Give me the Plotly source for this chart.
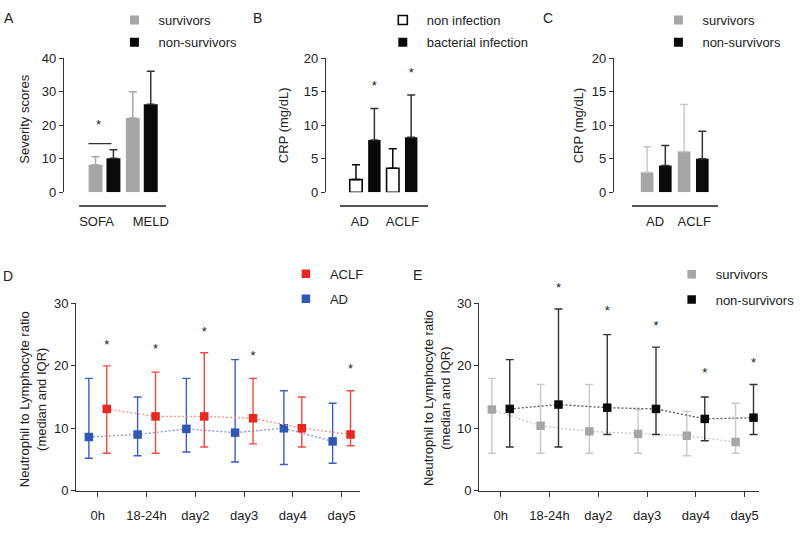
import plotly.graph_objects as go

W, H = 800, 533
def fx(p):
    return p / W
def fy(p):
    return 1 - p / H

FONT = "Liberation Sans, Arial, sans-serif"
TXT = "#222222"
AX = "#333333"

GRAY = "#a6a6a6"
GRAY_ERR_LIGHT = "#c8c8c8"
BLACK = "#0a0a0a"
BLACK_ERR = "#333333"
RED = "#e8271f"
RED_ERR = "#ee4a3e"
BLUE = "#3057b2"
BLUE_ERR = "#3a5fbe"

# ---------------- Panel A ----------------
a_categories = ["SOFA", "MELD"]
a_surv = [8.2, 22.2]
a_surv_upper = [10.6, 30.0]
a_nonsurv = [10.2, 26.3]
a_nonsurv_upper = [12.7, 36.1]
a_sig_star = 20.0
a_sig_line = 14.5

# ---------------- Panel B ----------------
b_categories = ["AD", "ACLF"]
b_noninf = [1.9, 3.6]
b_noninf_upper = [4.1, 6.5]
b_bact = [7.8, 8.2]
b_bact_upper = [12.5, 14.5]
b_stars = [15.8, 17.7]

# ---------------- Panel C ----------------
c_categories = ["AD", "ACLF"]
c_surv = [3.0, 6.1]
c_surv_upper = [6.8, 13.1]
c_nonsurv = [4.0, 5.0]
c_nonsurv_upper = [7.0, 9.1]

# ---------------- Panel D ----------------
timepoints = ["0h", "18-24h", "day2", "day3", "day4", "day5"]
d_ad_med = [8.6, 9.0, 9.9, 9.3, 10.0, 7.9]
d_ad_q1 = [5.2, 5.6, 6.2, 4.6, 4.2, 4.4]
d_ad_q3 = [18.0, 15.0, 18.0, 21.0, 16.0, 14.0]
d_aclf_med = [13.1, 11.9, 11.9, 11.6, 10.0, 9.0]
d_aclf_q1 = [6.0, 6.0, 7.0, 7.5, 7.0, 7.2]
d_aclf_q3 = [20.0, 19.0, 22.1, 18.0, 15.0, 16.0]
d_stars = [23.2, 22.5, 25.3, 21.4, None, 19.4]

# ---------------- Panel E ----------------
e_surv_med = [13.0, 10.4, 9.5, 9.1, 8.8, 7.8]
e_surv_q1 = [6.0, 6.0, 6.0, 6.0, 5.6, 6.0]
e_surv_q3 = [18.0, 17.0, 17.0, 13.0, 12.7, 14.0]
e_non_med = [13.1, 13.8, 13.3, 13.1, 11.5, 11.7]
e_non_q1 = [7.0, 7.0, 9.0, 9.0, 8.0, 9.0]
e_non_q3 = [21.0, 29.1, 25.0, 23.0, 15.0, 17.0]
e_stars = [None, 32.4, 28.6, 26.3, 18.7, 20.4]

fig = go.Figure()
legend_layouts = {}
_leg_count = [0]

def new_legend(sx, sy):
    """one legend box per entry, symbol centred near pixel (sx, sy)"""
    _leg_count[0] += 1
    k = _leg_count[0]
    name = "legend" if k == 1 else f"legend{k}"
    legend_layouts[name] = dict(
        x=fx(sx - 24), y=fy(sy - 17), xanchor="left", yanchor="top",
        bgcolor="rgba(0,0,0,0)", borderwidth=0, itemwidth=38,
        font=dict(size=13, color=TXT, family=FONT))
    return name

# ---------- bar panel helper ----------
def bar_panel(n, cats, s1, s1_up, s2, s2_up, name1, name2, style1, style2,
              center0, unit, x0px, x1px, yax_px, ytop_px, ybot_px, ymax, dtick,
              label_px, bar_w, bar_gap, leg_px):
    xa = "x" if n == 1 else f"x{n}"
    ya = "y" if n == 1 else f"y{n}"
    idx = list(range(len(cats)))
    w = bar_w / unit
    off1 = -(bar_gap / 2 + bar_w) / unit
    off2 = (bar_gap / 2) / unit
    for vals, ups, off, st in [(s1, s1_up, off1, style1), (s2, s2_up, off2, style2)]:
        fig.add_trace(go.Bar(
            x=idx, y=vals, width=w, offset=off, xaxis=xa, yaxis=ya,
            marker=dict(color=st["fill"], line=dict(color=st["line"], width=st["lw"])),
            error_y=dict(type="data", symmetric=False,
                         array=[u - v for u, v in zip(ups, vals)],
                         arrayminus=[0] * len(vals),
                         color=st["err"], thickness=1.5, width=4),
            showlegend=False, hoverinfo="skip"))
    # legend entries
    for (nm, st), (sx, sy) in zip([(name1, style1), (name2, style2)], leg_px):
        fig.add_trace(go.Scatter(
            x=[None], y=[None], mode="markers", name=nm, xaxis=xa, yaxis=ya,
            marker=dict(symbol="square", size=9, color=st["fill"],
                        line=dict(color=st["line"], width=st["lw"])),
            legend=new_legend(sx, sy)))
    ticks_x = [(p - center0) / unit for p in label_px]
    axkey = "xaxis" if n == 1 else f"xaxis{n}"
    aykey = "yaxis" if n == 1 else f"yaxis{n}"
    fig.layout[axkey] = dict(
        domain=[fx(x0px), fx(x1px)], anchor="free", position=fy(205),
        range=[(x0px - center0) / unit, (x1px - center0) / unit],
        showline=True, linecolor="#555555", linewidth=1.5, ticks="",
        tickvals=ticks_x, ticktext=cats, showgrid=False, zeroline=False,
        tickfont=dict(size=13, color=TXT, family=FONT), ticklabelstandoff=3,
        fixedrange=True)
    fig.layout[aykey] = dict(
        domain=[fy(ybot_px), fy(ytop_px)], anchor="free", position=fx(yax_px),
        range=[0, ymax], dtick=dtick, showline=True, linecolor=AX, linewidth=1.3,
        ticks="outside", ticklen=4, tickcolor=AX, tickwidth=1.3,
        showgrid=False, zeroline=False,
        tickfont=dict(size=13, color=TXT, family=FONT), fixedrange=True)

solid_gray = dict(fill=GRAY, line=GRAY, lw=0, err=GRAY)
solid_black = dict(fill=BLACK, line=BLACK, lw=0, err=BLACK_ERR)
open_white = dict(fill="white", line=BLACK, lw=1.6, err=BLACK)
c_gray = dict(fill=GRAY, line=GRAY, lw=0, err=GRAY_ERR_LIGHT)

bar_panel(1, a_categories, a_surv, a_surv_upper, a_nonsurv, a_nonsurv_upper,
          "survivors", "non-survivors", solid_gray, solid_black,
          105, 37.5, 79, 167, 63.3, 52.7, 190.7, 40, 10, [97, 151.5], 14, 4,
          [(135, 15), (135, 38)])
bar_panel(2, b_categories, b_noninf, b_noninf_upper, b_bact, b_bact_upper,
          "non infection", "bacterial infection", open_white, solid_black,
          367, 37, 341.7, 430, 326.7, 52.7, 190.7, 20, 5, [361.7, 404.5], 12.5, 6,
          [(404.7, 15), (404.7, 38)])
bar_panel(3, c_categories, c_surv, c_surv_upper, c_nonsurv, c_nonsurv_upper,
          "survivors", "non-survivors", c_gray, solid_black,
          659.5, 37.2, 635, 721.7, 616, 52.7, 190.7, 20, 5, [658.3, 697.7], 12.7, 5.6,
          [(681.7, 15), (681.7, 38)])

# significance in A
fig.add_trace(go.Scatter(x=[(99 - 105) / 37.5], y=[a_sig_star], mode="text", text=["*"],
                         textfont=dict(size=13, color=TXT, family=FONT), xaxis="x", yaxis="y",
                         showlegend=False, cliponaxis=False, hoverinfo="skip"))
fig.add_shape(type="line", xref="x", yref="y", x0=(89 - 105) / 37.5, x1=(112 - 105) / 37.5,
              y0=a_sig_line, y1=a_sig_line, line=dict(color=AX, width=1.3))
# stars in B over bacterial bars
fig.add_trace(go.Scatter(x=[i + (3 + 6.25) / 37 for i in range(2)], y=b_stars, mode="text",
                         text=["*"] * 2, textfont=dict(size=13, color=TXT, family=FONT),
                         xaxis="x2", yaxis="y2", showlegend=False, cliponaxis=False,
                         hoverinfo="skip"))

# ---------- line panels ----------
Y_TOP, Y_BOT = 305, 497.7
STAR_TOP = 240  # extended (invisible) axis for significance stars

def line_panel(n, star_n, s1_med, s1_q1, s1_q3, s2_med, s2_q1, s2_q3, stars, name1, name2,
               col1, err1, dot1, col2, err2, dot2, tick0px, unit, yaxpx, x1px, leg_px):
    xa, ya = f"x{n}", f"y{n}"
    idx = list(range(len(timepoints)))
    off = 9 / unit
    entries = [(s1_med, s1_q1, s1_q3, -1, col1, err1, dot1, name1),
               (s2_med, s2_q1, s2_q3, 1, col2, err2, dot2, name2)]
    for (med, q1, q3, sgn, col, ecol, dcol, nm), (sx, sy) in zip(entries, leg_px):
        xs = [i + sgn * off for i in idx]
        fig.add_trace(go.Scatter(x=xs, y=med, mode="lines", xaxis=xa, yaxis=ya,
                                 line=dict(color=dcol, width=1.3, dash="2px,2px"),
                                 showlegend=False, hoverinfo="skip"))
        fig.add_trace(go.Scatter(
            x=xs, y=med, mode="markers", name=nm, xaxis=xa, yaxis=ya,
            marker=dict(symbol="square", size=8.5, color=col),
            error_y=dict(type="data", symmetric=False,
                         array=[b - m for b, m in zip(q3, med)],
                         arrayminus=[m - a for a, m in zip(q1, med)],
                         color=ecol, thickness=1.4, width=4),
            legend=new_legend(sx, sy), cliponaxis=False))
    fig.add_trace(go.Scatter(x=[i + off for i in idx], y=stars, mode="text", text=["*"] * len(idx),
                             textfont=dict(size=13, color=TXT, family=FONT),
                             xaxis=xa, yaxis=f"y{star_n}", showlegend=False, cliponaxis=False,
                             hoverinfo="skip"))
    fig.layout[f"xaxis{n}"] = dict(
        domain=[fx(yaxpx), fx(x1px)], anchor=ya,
        range=[(yaxpx - tick0px) / unit, (x1px - tick0px) / unit],
        tickvals=idx, ticktext=timepoints, ticks="outside", ticklen=5, tickwidth=1.3,
        tickcolor=AX, showline=True, linecolor=AX, linewidth=1.3, showgrid=False,
        zeroline=False, tickfont=dict(size=13, color=TXT, family=FONT),
        ticklabelstandoff=8, fixedrange=True)
    fig.layout[f"yaxis{n}"] = dict(
        domain=[fy(Y_BOT), fy(Y_TOP)], anchor=xa, range=[0, 30], dtick=10,
        showline=True, linecolor=AX, linewidth=1.3, ticks="outside", ticklen=4,
        tickwidth=1.3, tickcolor=AX, showgrid=False, zeroline=False,
        tickfont=dict(size=13, color=TXT, family=FONT), fixedrange=True)
    fig.layout[f"yaxis{star_n}"] = dict(
        domain=[fy(Y_BOT), fy(STAR_TOP)], anchor=xa,
        range=[0, 30 * (Y_BOT - STAR_TOP) / (Y_BOT - Y_TOP)], visible=False, fixedrange=True)

line_panel(4, 6, d_ad_med, d_ad_q1, d_ad_q3, d_aclf_med, d_aclf_q1, d_aclf_q3, d_stars,
           "AD", "ACLF", BLUE, BLUE_ERR, "#7d95d6", RED, RED_ERR, "#f39480",
           98.3, 49, 76.7, 361.7, [(307.3, 301.7), (307.3, 276)])
line_panel(5, 7, e_surv_med, e_surv_q1, e_surv_q3, e_non_med, e_non_q1, e_non_q3, e_stars,
           "survivors", "non-survivors", GRAY, GRAY_ERR_LIGHT, "#c8c8c8", BLACK, BLACK_ERR, "#555555",
           503.3, 49, 481.7, 763.3, [(695, 276.7), (695, 302.7)])

fig.update_layout(**legend_layouts)

# ---------- text annotations ----------
ann = []
for letter, x, y in [("A", 9, 11.5), ("B", 259, 11.5), ("C", 551, 11.5), ("D", 8, 276.5), ("E", 419.5, 276)]:
    ann.append(dict(text=letter, x=fx(x), y=fy(y), xref="paper", yref="paper",
                    showarrow=False, xanchor="center", yanchor="middle",
                    font=dict(size=14, color=TXT, family=FONT)))
for t, x, y in [("Severity scores", 25, 115), ("CRP (mg/dL)", 285, 122), ("CRP (mg/dL)", 581.7, 122),
                ("Neutrophil to Lymphocyte ratio<br>(median and IQR)", 34, 403.7),
                ("Neutrophil to Lymphocyte ratio<br>(median and IQR)", 438.5, 402)]:
    ann.append(dict(text=t, x=fx(x), y=fy(y), xref="paper", yref="paper", textangle=-90,
                    showarrow=False, xanchor="center", yanchor="middle",
                    font=dict(size=13, color=TXT, family=FONT)))

fig.update_layout(
    width=W, height=H, margin=dict(l=0, r=0, t=0, b=0),
    paper_bgcolor="white", plot_bgcolor="rgba(0,0,0,0)",
    annotations=ann, barmode="overlay",
    font=dict(family=FONT, size=13, color=TXT),
)

fig.write_html("out.html", include_plotlyjs=True, config={"displayModeBar": False},
               post_script="document.body.style.margin='0';document.body.style.padding='0';")
